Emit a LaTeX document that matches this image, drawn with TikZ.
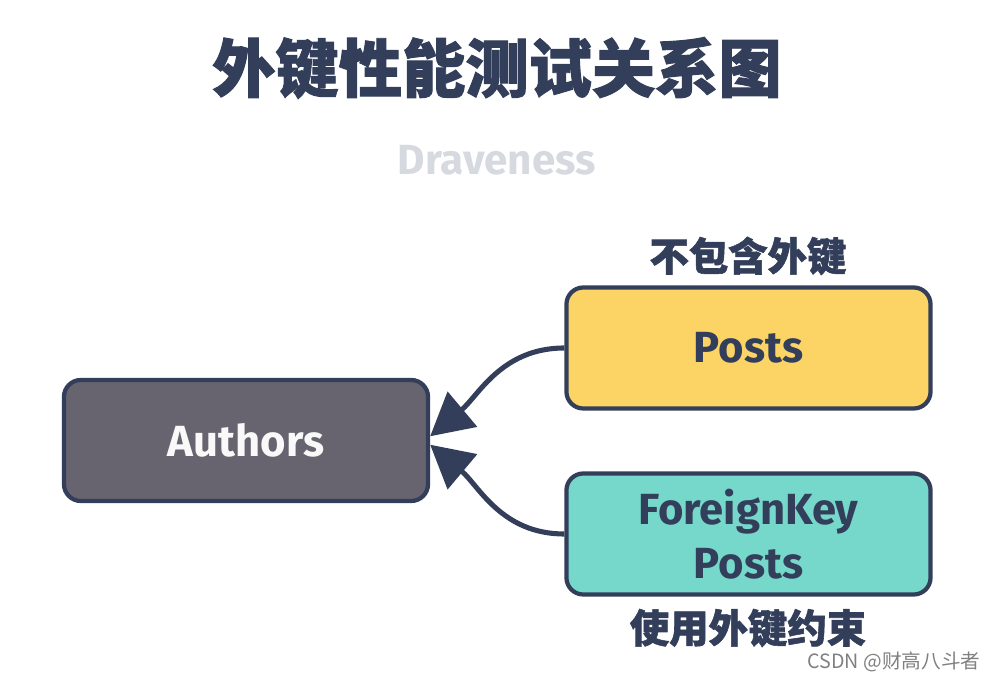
\documentclass[tikz,border=0pt]{standalone}
\usepackage{fontspec}
\setmainfont{Fira Sans}
\newfontfamily\cjk{Noto Sans CJK SC}
\newfontfamily\cjkheavy{Noto Sans CJK SC}[FakeBold=1.5]
\usetikzlibrary{arrows.meta,positioning,shapes}

\definecolor{navy}{HTML}{333F5A}
\definecolor{authorgray}{HTML}{67646F}
\definecolor{postyellow}{HTML}{FBD465}
\definecolor{fkteal}{HTML}{76D8CA}
\definecolor{subgray}{HTML}{D6D9E0}

\begin{document}
\begin{tikzpicture}[x=0.025cm, y=-0.025cm,
  table/.style={draw=navy, line width=3pt, rounded corners=12pt,
    minimum width=9.1cm, minimum height=3.025cm, align=center,
    font=\bfseries\fontsize{31}{38}\selectfont},
  note/.style={text=navy, font=\cjkheavy\bfseries\fontsize{28}{30}\selectfont},
  link/.style={-{Triangle[length=30pt,width=32pt]}, navy, line width=3.6pt}]
  \useasboundingbox (0,0) rectangle (996,681);
  \node[text=navy, font=\cjkheavy\bfseries\fontsize{45}{50}\selectfont] (title) at (497,68) {外键性能测试关系图};
  \node[text=subgray, font=\bfseries\fontsize{30}{32}\selectfont] (sub) at (497,160) {Draveness};
  \node[table, fill=authorgray, text=white!95!gray] (authors) at (246,440.5) {Authors};
  \node[table, fill=postyellow, text=navy] (posts) at (748.5,348) {Posts};
  \node[table, fill=fkteal, text=navy] (fkposts) at (748.5,534) {ForeignKey\\Posts};
  \node[note] (nofk) at (748,256) {不包含外键};
  \node[note] (usefk) at (748,628) {使用外键约束};
  \node[text=gray, font=\cjk\fontsize{14}{16}\selectfont] (mark) at (894,662) {CSDN @财高八斗者};
  \draw[link] (posts.west) to[out=180, in=40] ([yshift=3pt]authors.east);
  \draw[link] (fkposts.west) to[out=180, in=-40] ([yshift=-3pt]authors.east);
\end{tikzpicture}
\end{document}
